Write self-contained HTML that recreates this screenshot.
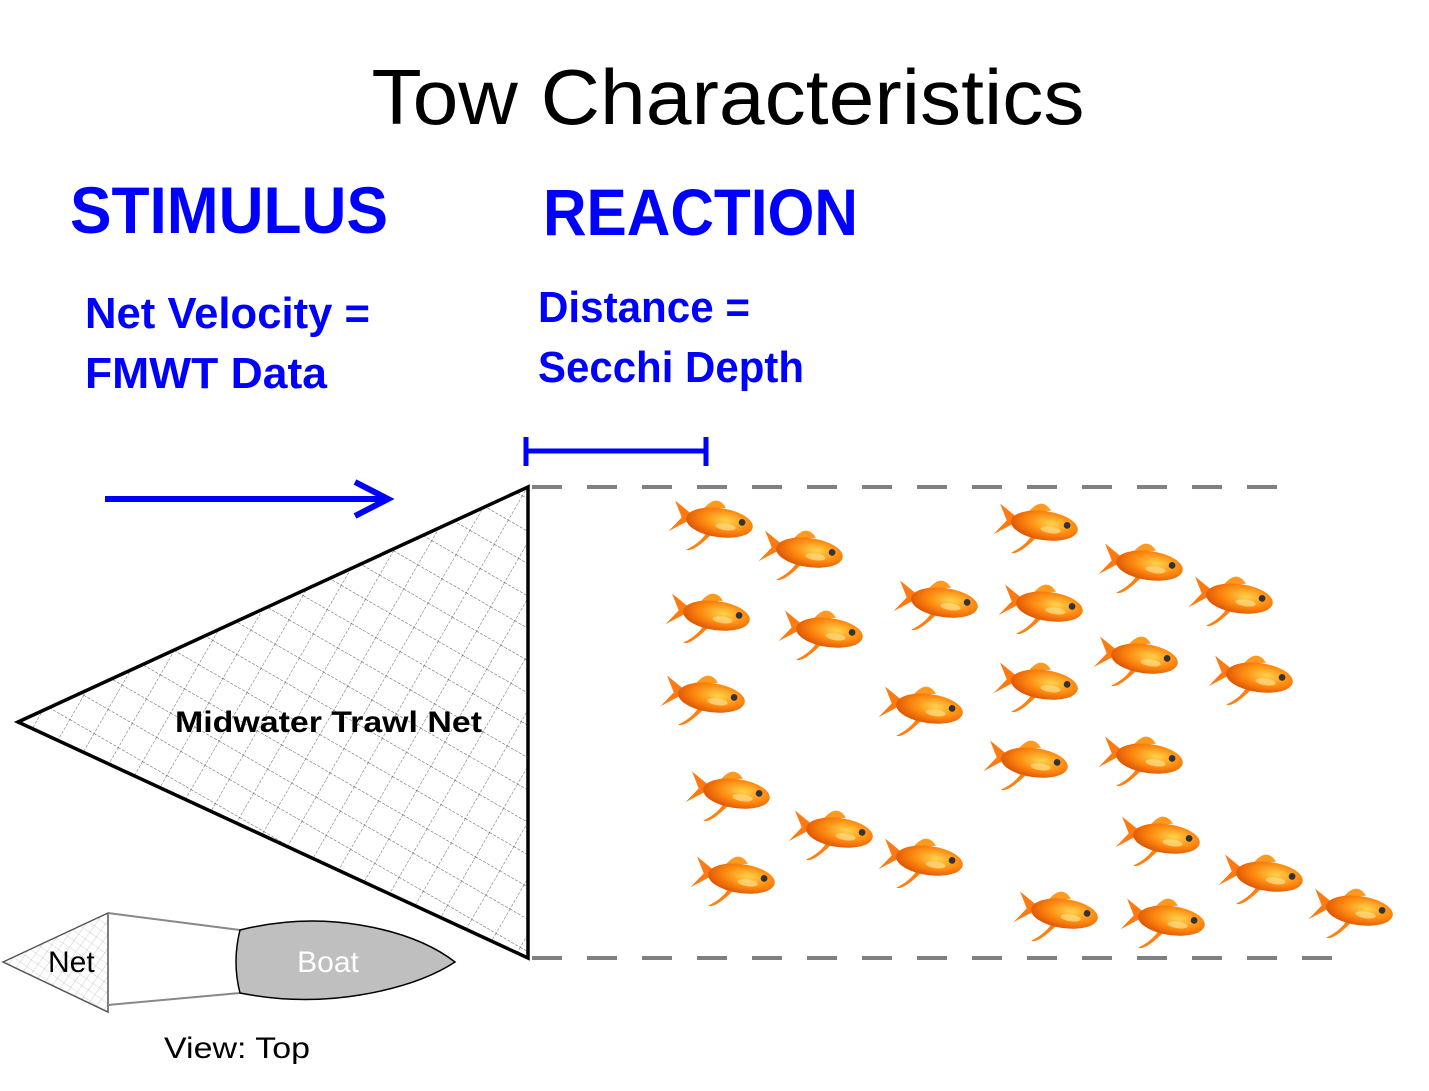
<!DOCTYPE html>
<html><head><meta charset="utf-8"><style>
html,body{margin:0;padding:0;background:#fff;}
svg{display:block;}
text{font-family:"Liberation Sans",sans-serif;}
</style></head><body>
<svg width="1429" height="1091" viewBox="0 0 1429 1091">
<defs>
<pattern id="mesh" width="28" height="28" patternUnits="userSpaceOnUse" patternTransform="rotate(30)">
<path d="M0 0H28M0 0V28" stroke="#555" stroke-width="0.9" stroke-dasharray="3 1.5" fill="none"/>
</pattern>
<pattern id="mesh2" width="8" height="8" patternUnits="userSpaceOnUse" patternTransform="rotate(35)">
<path d="M0 0H8M0 0V8" stroke="#aaa" stroke-width="0.6" fill="none"/>
</pattern>
<radialGradient id="fg" cx="0.6" cy="0.4" r="0.7">
<stop offset="0" stop-color="#ffd34a"/><stop offset="0.5" stop-color="#ff8a10"/><stop offset="1" stop-color="#d84a00"/>
</radialGradient>
<g id="fish0">
<path d="M-38 -14 L-18 -2 L-40 14 L-30 0 Z" fill="#ff7a10"/>
<path d="M-12 -10 Q-2 -26 8 -14 Z" fill="#ff9a20"/>
<path d="M-2 12 Q-16 30 -22 28 Q-10 20 -6 10 Z" fill="#ff8010"/>
<ellipse cx="4" cy="0" rx="30" ry="13" fill="url(#fg)"/>
<ellipse cx="24" cy="-3" rx="3" ry="3" fill="#333"/>
<ellipse cx="10" cy="3" rx="9" ry="3" fill="#ffe08a" opacity="0.7"/>
</g>
<g id="fish"><use href="#fish0" transform="rotate(8) scale(1.12)"/></g>
</defs>

<text x="728" y="124" font-size="78" text-anchor="middle" textLength="713" lengthAdjust="spacingAndGlyphs" fill="#000">Tow Characteristics</text>
<text x="70" y="233" font-size="66" font-weight="bold" fill="#0000ff" textLength="318" lengthAdjust="spacingAndGlyphs">STIMULUS</text>
<text x="543" y="235" font-size="66" font-weight="bold" fill="#0000ff" textLength="315" lengthAdjust="spacingAndGlyphs">REACTION</text>
<text x="85" y="328" font-size="44" font-weight="bold" fill="#0000ff" textLength="285" lengthAdjust="spacingAndGlyphs">Net Velocity =</text>
<text x="85" y="388" font-size="44" font-weight="bold" fill="#0000ff" textLength="242" lengthAdjust="spacingAndGlyphs">FMWT Data</text>
<text x="538" y="322" font-size="44" font-weight="bold" fill="#0000ff" textLength="212" lengthAdjust="spacingAndGlyphs">Distance =</text>
<text x="538" y="382" font-size="44" font-weight="bold" fill="#0000ff" textLength="266" lengthAdjust="spacingAndGlyphs">Secchi Depth</text>

<g stroke="#0000ff" stroke-width="5" fill="none">
<path d="M526 451H706M526 437V466M706 437V466"/>
</g>
<g stroke="#0000ff" stroke-width="6" fill="none">
<path d="M105 499H388M355 482L388 499L355 516"/>
</g>

<g stroke="#808080" stroke-width="4" stroke-dasharray="30 25">
<path d="M532 487H1285"/><path d="M532 958H1340"/>
</g>

<polygon points="18,722 528,487 528,958" fill="url(#mesh)" stroke="#000" stroke-width="3.5"/>
<text x="175" y="732" font-size="30" font-weight="bold" fill="#000" textLength="307" lengthAdjust="spacingAndGlyphs">Midwater Trawl Net</text>

<g>
<use href="#fish" x="715" y="522"/><use href="#fish" x="805" y="552"/><use href="#fish" x="1040" y="525"/>
<use href="#fish" x="1145" y="565"/><use href="#fish" x="1235" y="598"/><use href="#fish" x="712" y="615"/>
<use href="#fish" x="825" y="632"/><use href="#fish" x="940" y="602"/><use href="#fish" x="1045" y="606"/>
<use href="#fish" x="1140" y="658"/><use href="#fish" x="1255" y="677"/><use href="#fish" x="707" y="697"/>
<use href="#fish" x="925" y="708"/><use href="#fish" x="1040" y="684"/><use href="#fish" x="1030" y="762"/>
<use href="#fish" x="1145" y="758"/><use href="#fish" x="732" y="793"/><use href="#fish" x="835" y="832"/>
<use href="#fish" x="925" y="860"/><use href="#fish" x="1162" y="838"/><use href="#fish" x="737" y="878"/>
<use href="#fish" x="1265" y="876"/><use href="#fish" x="1060" y="913"/><use href="#fish" x="1167" y="920"/>
<use href="#fish" x="1355" y="910"/>
</g>

<g>
<polygon points="3,962 108,913 108,1012" fill="url(#mesh2)" stroke="#555" stroke-width="1.5"/>
<path d="M108 913L240 930M108 1005L240 993" stroke="#888" stroke-width="2" fill="none"/>
<path d="M240 930 Q300 915 360 925 Q420 935 455 962 Q420 985 360 995 Q300 1005 240 993 Q232 962 240 930 Z" fill="#bfbfbf" stroke="#000" stroke-width="1.5"/>
<text x="328" y="972" font-size="30" fill="#fff" text-anchor="middle">Boat</text>
<text x="48" y="972" font-size="30" fill="#000">Net</text>
<text x="164" y="1058" font-size="30" fill="#000" textLength="146" lengthAdjust="spacingAndGlyphs">View: Top</text>
</g>
</svg>
</body></html>
